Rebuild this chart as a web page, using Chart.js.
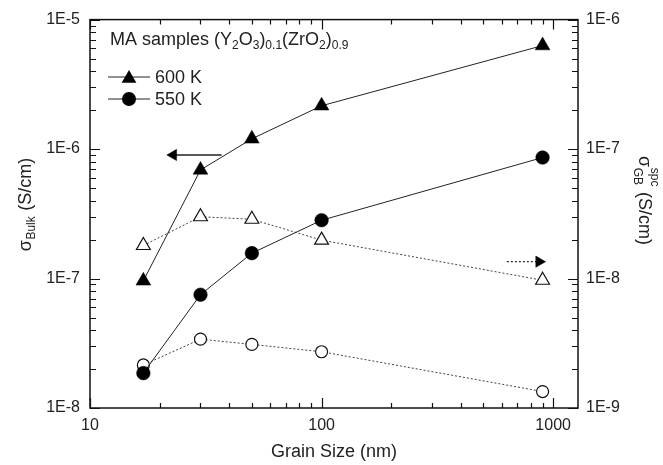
<!DOCTYPE html>
<html><head><meta charset="utf-8">
<script src="https://cdn.jsdelivr.net/npm/chart.js@4.4.0/dist/chart.umd.min.js"></script>
<style>html,body{margin:0;padding:0;background:#fff;}#wrap{width:663px;height:465px;}</style>
</head><body><div id="wrap"><canvas id="c" width="663" height="465"></canvas></div>
<script>
// ---- data ----
const grainSize = [17, 30, 50, 100, 900];                       // nm
const bulk600 = [9.6e-8, 6.9e-7, 1.2e-6, 2.16e-6, 6.3e-6];      // left axis, filled triangles
const bulk550 = [1.86e-8, 7.5e-8, 1.57e-7, 2.82e-7, 8.6e-7];    // left axis, filled circles
const gb600 = [1.8e-8, 3.0e-8, 2.87e-8, 1.98e-8, 9.7e-9];       // right axis, open triangles
const gb550 = [2.15e-9, 3.4e-9, 3.1e-9, 2.72e-9, 1.34e-9];      // right axis, open circles
const leftArrowX = [37, 22.9];  const leftArrowY = [9.0e-7, 9.0e-7];
const rightArrowX = [631, 869]; const rightArrowY = [1.35e-8, 1.35e-8];
const xTickLabels = ['10', '100', '1000'];
const leftTickLabels = ['1E-8', '1E-7', '1E-6', '1E-5'];
const rightTickLabels = ['1E-9', '1E-8', '1E-7', '1E-6'];
const legendLabels = ['600 K', '550 K'];

const FONT = '"Liberation Sans", Arial, sans-serif';
const pts = (xs, ys) => xs.map((x, i) => ({x: x, y: ys[i]}));
function decadeLabel(v, labels, minExp) {
  const e = Math.log10(v);
  const r = Math.round(e);
  if (Math.abs(e - r) < 1e-6) { const l = labels[r - minExp]; return l === undefined ? '' : l; }
  return '';
}

const framePlugin = {
  id: 'frame',
  afterDraw(chart) {
    const ctx = chart.ctx, a = chart.chartArea;
    const sx = chart.scales.x, sy = chart.scales.y, sy2 = chart.scales.y2;
    ctx.save();
    ctx.strokeStyle = '#111';
    ctx.lineWidth = 1.5;
    ctx.strokeRect(a.left, a.top, a.right - a.left, a.bottom - a.top);
    // inward ticks
    ctx.lineWidth = 1.2;
    ctx.beginPath();
    const logTicks = (scale) => {
      const out = [];
      const lo = Math.floor(Math.log10(scale.min)), hi = Math.ceil(Math.log10(scale.max));
      for (let e = lo; e <= hi; e++) for (let m = 1; m <= 9; m++) {
        const v = m * Math.pow(10, e);
        if (v >= scale.min * 0.9999 && v <= scale.max * 1.0001) out.push({v: v, major: m === 1});
      }
      return out;
    };
    logTicks(sx).forEach(t => {
      const p = Math.round(sx.getPixelForValue(t.v)) + 0.5, L = t.major ? 10 : 5;
      ctx.moveTo(p, a.bottom); ctx.lineTo(p, a.bottom - L);
      ctx.moveTo(p, a.top); ctx.lineTo(p, a.top + L);
    });
    logTicks(sy).forEach(t => {
      const p = Math.round(sy.getPixelForValue(t.v)) + 0.5, L = t.major ? 10 : 6;
      ctx.moveTo(a.left, p); ctx.lineTo(a.left + L, p);
    });
    logTicks(sy2).forEach(t => {
      const p = Math.round(sy2.getPixelForValue(t.v)) + 0.5, L = t.major ? 10 : 6;
      ctx.moveTo(a.right, p); ctx.lineTo(a.right - L, p);
    });
    ctx.stroke();

    ctx.fillStyle = '#222';
    // x title
    ctx.font = '18px ' + FONT;
    ctx.textAlign = 'center'; ctx.textBaseline = 'alphabetic';
    ctx.fillText('Grain Size (nm)', (a.left + a.right) / 2, 457);

    // left title
    ctx.save();
    ctx.translate(24, 205); ctx.rotate(-Math.PI / 2);
    ctx.textAlign = 'left';
    ctx.font = '18px ' + FONT; const w1 = ctx.measureText('\u03c3').width;
    ctx.font = '12px ' + FONT; const w2 = ctx.measureText('Bulk').width;
    ctx.font = '18px ' + FONT; const w3 = ctx.measureText(' (S/cm)').width;
    let x0 = -(w1 + w2 + w3) / 2;
    ctx.font = '18px ' + FONT; ctx.fillText('\u03c3', x0, 6.5);
    ctx.font = '12px ' + FONT; ctx.fillText('Bulk', x0 + w1 + 0.5, 11);
    ctx.font = '18px ' + FONT; ctx.fillText(' (S/cm)', x0 + w1 + w2 + 1, 6.5);
    ctx.restore();

    // right title
    ctx.save();
    ctx.translate(645, 200); ctx.rotate(Math.PI / 2);
    ctx.textAlign = 'left';
    ctx.font = '18px ' + FONT; const r1 = ctx.measureText('\u03c3').width;
    ctx.font = '12px ' + FONT; const r2 = Math.max(ctx.measureText('GB').width, ctx.measureText('spc').width);
    ctx.font = '18px ' + FONT; const r3 = ctx.measureText(' (S/cm)').width;
    x0 = -(r1 + r2 + r3) / 2;
    ctx.font = '18px ' + FONT; ctx.fillText('\u03c3', x0, 6.5);
    ctx.font = '12px ' + FONT; ctx.fillText('GB', x0 + r1 + 0.5, 11);
    ctx.fillText('spc', x0 + r1 + 0.5, -6);
    ctx.font = '18px ' + FONT; ctx.fillText(' (S/cm)', x0 + r1 + r2 + 1, 6.5);
    ctx.restore();

    // legend title
    ctx.textAlign = 'left'; ctx.textBaseline = 'alphabetic';
    let lx = 110; const ly = 45;
    const seg = (t, sub) => {
      ctx.font = (sub ? '12px ' : '18px ') + FONT;
      ctx.fillText(t, lx, sub ? ly + 4 : ly);
      lx += ctx.measureText(t).width;
    };
    seg('MA samples (Y'); seg('2', 1); seg('O'); seg('3', 1); seg(')'); seg('0.1', 1);
    seg('(ZrO'); seg('2', 1); seg(')'); seg('0.9', 1);

    // legend items
    const rows = [77, 99];
    rows.forEach((y, i) => {
      ctx.strokeStyle = '#222'; ctx.lineWidth = 1;
      ctx.beginPath(); ctx.moveTo(108, y); ctx.lineTo(150, y); ctx.stroke();
      ctx.fillStyle = '#000';
      ctx.beginPath();
      if (i === 0) {
        const r = 8.5, cy = y + 1.5;
        for (let k = 0; k < 3; k++) {
          const ang = k * 2 * Math.PI / 3;
          const px = 129 + Math.sin(ang) * r, py = cy - Math.cos(ang) * r;
          if (k === 0) ctx.moveTo(px, py); else ctx.lineTo(px, py);
        }
        ctx.closePath();
      } else {
        ctx.arc(129, y, 7, 0, 2 * Math.PI);
      }
      ctx.fill();
      ctx.fillStyle = '#222';
      ctx.font = '18px ' + FONT; ctx.textBaseline = 'middle';
      ctx.fillText(legendLabels[i], 155, y + 1);
    });
    ctx.restore();
  }
};

new Chart(document.getElementById('c'), {
  type: 'scatter',
  data: {
    datasets: [
      { data: pts(grainSize, bulk600), yAxisID: 'y', showLine: true, borderColor: '#222', borderWidth: 1,
        pointStyle: 'triangle', pointRadius: 8.5, pointBackgroundColor: '#000', pointBorderColor: '#000', pointBorderWidth: 0.5 },
      { data: pts(grainSize, bulk550), yAxisID: 'y', showLine: true, borderColor: '#222', borderWidth: 1,
        pointStyle: 'circle', pointRadius: 6.8, pointBackgroundColor: '#000', pointBorderColor: '#000', pointBorderWidth: 0.5 },
      { data: pts(grainSize, gb600), yAxisID: 'y2', showLine: true, borderColor: '#444', borderWidth: 1, borderDash: [2, 2],
        pointStyle: 'triangle', pointRadius: 8, pointBackgroundColor: '#fff', pointBorderColor: '#111', pointBorderWidth: 1.2 },
      { data: pts(grainSize, gb550), yAxisID: 'y2', showLine: true, borderColor: '#444', borderWidth: 1, borderDash: [2, 2],
        pointStyle: 'circle', pointRadius: 6, pointBackgroundColor: '#fff', pointBorderColor: '#111', pointBorderWidth: 1.2 },
      { data: pts(leftArrowX, leftArrowY), yAxisID: 'y', showLine: true, borderColor: '#222', borderWidth: 1.3,
        pointStyle: 'triangle', rotation: -90, pointRadius: [0, 6.5], pointBackgroundColor: '#000', pointBorderColor: '#000', pointBorderWidth: 0.5 },
      { data: pts(rightArrowX, rightArrowY), yAxisID: 'y2', showLine: true, borderColor: '#222', borderWidth: 1.2, borderDash: [2, 2],
        pointStyle: 'triangle', rotation: 90, pointRadius: [0, 6.5], pointBackgroundColor: '#000', pointBorderColor: '#000', pointBorderWidth: 0.5 }
    ]
  },
  options: {
    responsive: false, animation: false, events: [], devicePixelRatio: 1,
    layout: { padding: { top: 17, left: 0, right: 0, bottom: 0 } },
    plugins: { legend: { display: false }, tooltip: { enabled: false } },
    scales: {
      x: { type: 'logarithmic', position: 'bottom', min: 10, max: 1280,
        grid: { display: false, drawTicks: false }, border: { display: false },
        ticks: { autoSkip: false, maxRotation: 0, padding: 8, color: '#222', font: { family: FONT, size: 16 },
          callback: (v) => decadeLabel(v, xTickLabels, 1) },
        afterFit: (s) => { s.height = 57; } },
      y: { type: 'logarithmic', position: 'left', min: 1e-8, max: 1e-5,
        grid: { display: false, drawTicks: false }, border: { display: false },
        ticks: { autoSkip: false, padding: 10, color: '#222', font: { family: FONT, size: 16 },
          callback: (v) => decadeLabel(v, leftTickLabels, -8) },
        afterFit: (s) => { s.width = 90; } },
      y2: { type: 'logarithmic', position: 'right', min: 1e-9, max: 1e-6,
        grid: { display: false, drawTicks: false }, border: { display: false },
        ticks: { autoSkip: false, padding: 8, color: '#222', font: { family: FONT, size: 16 },
          callback: (v) => decadeLabel(v, rightTickLabels, -9) },
        afterFit: (s) => { s.width = 85; } }
    }
  },
  plugins: [framePlugin]
});
</script>
</body></html>
